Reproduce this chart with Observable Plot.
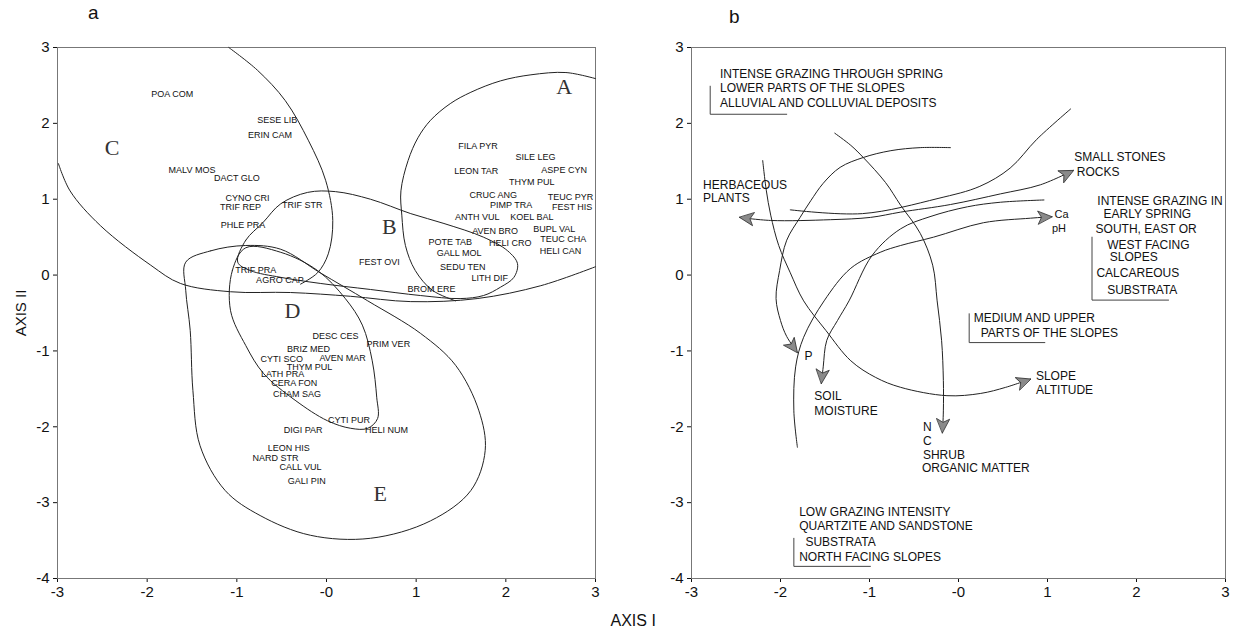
<!DOCTYPE html>
<html><head><meta charset="utf-8">
<script src="https://cdn.jsdelivr.net/npm/d3@7"></script>
<script src="https://cdn.jsdelivr.net/npm/@observablehq/plot@0.6"></script>
<style>
body{margin:0;background:#fff;}
#wrap{position:relative;width:1236px;height:640px;overflow:hidden;font-family:"Liberation Sans",Arial,sans-serif;background:#fff;}
#wrap > svg{position:absolute;top:0;}
.lbl{position:absolute;color:#111;font-family:"Liberation Sans",Arial,sans-serif;white-space:nowrap;}
</style></head><body><div id="wrap"></div>
<script>
// ---------- axes ----------
const xTicks = [-3, -2, -1, 0, 1, 2, 3];
const xTickLabels = ["-3", "-2", "-1", "-0", "1", "2", "3"];
const yTicks = [3, 2, 1, 0, -1, -2, -3, -4];
const yTickLabels = ["3", "2", "1", "0", "-1", "-2", "-3", "-4"];

// ---------- panel a: species scores ----------
const species = [
  ["POA COM",-1.72,2.38],["SESE LIB",-0.55,2.04],["ERIN CAM",-0.63,1.85],["MALV MOS",-1.50,1.39],
  ["DACT GLO",-1.00,1.28],["CYNO CRI",-0.88,1.01],["TRIF REP",-0.96,0.90],["TRIF STR",-0.27,0.92],
  ["PHLE PRA",-0.93,0.66],["TRIF PRA",-0.79,0.06],["AGRO CAP",-0.52,-0.06],["FEST OVI",0.59,0.17],
  ["FILA PYR",1.69,1.70],["SILE LEG",2.33,1.55],["LEON TAR",1.67,1.37],["ASPE CYN",2.65,1.38],
  ["THYM PUL",2.29,1.22],["CRUC ANG",1.86,1.05],["TEUC PYR",2.72,1.03],["PIMP TRA",2.06,0.92],
  ["FEST HIS",2.74,0.90],["ANTH VUL",1.68,0.76],["KOEL BAL",2.29,0.76],["AVEN BRO",1.88,0.58],
  ["BUPL VAL",2.54,0.61],["TEUC CHA",2.64,0.47],["POTE TAB",1.38,0.43],["HELI CRO",2.05,0.42],
  ["HELI CAN",2.61,0.31],["GALL MOL",1.48,0.29],["SEDU TEN",1.52,0.11],["LITH DIF",1.82,-0.04],
  ["BROM ERE",1.17,-0.18],["DESC CES",0.10,-0.81],["PRIM VER",0.69,-0.91],["BRIZ MED",-0.20,-0.97],
  ["CYTI SCO",-0.50,-1.11],["AVEN MAR",0.18,-1.09],["THYM PUL",-0.19,-1.21],["LATH PRA",-0.49,-1.31],
  ["CERA FON",-0.36,-1.43],["CHAM SAG",-0.33,-1.57],["CYTI PUR",0.25,-1.91],["HELI NUM",0.67,-2.05],
  ["DIGI PAR",-0.26,-2.05],["LEON HIS",-0.42,-2.28],["NARD STR",-0.57,-2.41],["CALL VUL",-0.29,-2.53],
  ["GALI PIN",-0.22,-2.72]
];
const groupLetters = [["A",2.65,2.48],["B",0.70,0.64],["C",-2.39,1.67],["D",-0.38,-0.47],["E",0.60,-2.88]];

// group boundaries (open curves)
const boundaryCBottom = [[-2.99,1.47],[-2.86,1.11],[-2.52,0.65],[-1.96,0.13],[-1.63,-0.11],[-1.07,-0.22],
  [-0.40,-0.23],[0.27,-0.28],[0.94,-0.35],[1.68,-0.31],[2.39,-0.14],[3.0,0.11]];
const boundaryCTop = [[-1.09,3.0],[-0.77,2.70],[-0.46,2.30],[-0.20,1.77],[-0.01,1.25],[0.07,0.72],
  [0.02,0.28],[-0.10,0.03],[-0.29,-0.12]];
const boundaryA = [[3.0,2.59],[2.67,2.67],[2.28,2.64],[1.94,2.56],[1.61,2.41],[1.38,2.26],[1.16,2.04],
  [1.02,1.81],[0.91,1.51],[0.83,1.11],[0.84,0.79],[0.88,0.39],[0.99,0.06],[1.18,-0.20],[1.44,-0.34]];
// closed boundaries
const boundaryB = [[-0.99,0.17],[-0.90,0.46],[-0.71,0.69],[-0.51,0.94],[-0.21,1.09],[0.10,1.10],[0.49,1.00],
  [0.94,0.81],[1.31,0.68],[1.75,0.50],[2.02,0.32],[2.13,0.15],[2.09,-0.03],[1.94,-0.16],[1.75,-0.27],
  [1.49,-0.31],[1.05,-0.27],[0.49,-0.19],[-0.07,-0.11],[-0.51,-0.03],[-0.85,0.06]];
const boundaryD = [[-0.90,0.36],[-1.05,0.06],[-1.07,-0.47],[-0.90,-0.93],[-0.70,-1.30],[-0.35,-1.65],
  [0.01,-1.92],[0.27,-2.02],[0.46,-2.02],[0.57,-1.89],[0.56,-1.61],[0.51,-1.13],[0.40,-0.66],[0.21,-0.31],
  [-0.10,0.06],[-0.51,0.30]];
const boundaryE = [[-1.57,0.17],[-1.29,0.32],[-0.90,0.39],[-0.51,0.34],[-0.07,0.03],[0.46,-0.34],[1.05,-0.77],
  [1.44,-1.19],[1.70,-1.79],[1.77,-2.31],[1.61,-2.84],[1.16,-3.24],[0.49,-3.47],[-0.18,-3.43],[-0.74,-3.17],
  [-1.13,-2.84],[-1.41,-2.25],[-1.49,-1.52],[-1.52,-0.73],[-1.57,-0.20]];

// ---------- panel b: environmental gradients ----------
const gradHerbStones = [[-2.46,0.76],[-2.11,0.72],[-1.44,0.73],[-0.99,0.76],[-0.65,0.83],[-0.09,0.93],
  [0.47,1.07],[0.92,1.19],[1.29,1.38]];
const gradRising = [[-1.89,0.86],[-1.08,0.81],[-0.23,1.01],[0.24,1.17],[0.58,1.41],[0.88,1.79],[1.26,2.19]];
const gradSoil = [[0.96,0.99],[0.47,0.96],[0.10,0.90],[-0.32,0.77],[-0.65,0.61],[-0.97,0.26],[-1.23,-0.34],
  [-1.36,-0.60],[-1.48,-0.86],[-1.52,-1.21],[-1.54,-1.43]];
const gradCaPh = [[-1.81,-2.27],[-1.85,-1.79],[-1.83,-1.21],[-1.74,-0.82],[-1.51,-0.34],[-1.21,0.09],
  [-0.88,0.30],[-0.65,0.39],[-0.28,0.50],[0.28,0.69],[0.81,0.75],[1.05,0.77]];
const gradP = [[-0.09,1.68],[-0.43,1.68],[-0.76,1.64],[-1.07,1.55],[-1.33,1.42],[-1.52,1.21],[-1.66,0.98],
  [-1.78,0.76],[-1.93,0.46],[-2.01,0.06],[-2.05,-0.31],[-2.00,-0.60],[-1.93,-0.81],[-1.81,-1.02]];
const gradSlope = [[-2.20,1.51],[-2.16,1.12],[-2.11,0.79],[-2.02,0.39],[-1.89,0.03],[-1.74,-0.34],
  [-1.49,-0.73],[-1.21,-1.13],[-0.93,-1.35],[-0.65,-1.48],[-0.13,-1.59],[0.25,-1.56],[0.53,-1.48],[0.81,-1.37]];
const gradShrub = [[-1.39,1.87],[-1.21,1.71],[-1.07,1.55],[-0.82,1.22],[-0.65,0.92],[-0.43,0.55],
  [-0.29,0.13],[-0.24,-0.34],[-0.19,-0.86],[-0.17,-1.39],[-0.17,-1.79],[-0.18,-2.08]];

const gradientLabels = [
  ["HERBACEOUS",-2.87,1.19],["PLANTS",-2.87,1.01],["SMALL STONES",1.30,1.56],["ROCKS",1.33,1.36],
  ["P",-1.73,-1.07],["SOIL",-1.62,-1.59],["MOISTURE",-1.62,-1.79],["SLOPE",0.87,-1.33],["ALTITUDE",0.87,-1.52],
  ["N",-0.40,-2.00],["C",-0.40,-2.19],["SHRUB",-0.40,-2.38],["ORGANIC MATTER",-0.41,-2.54]
];
const smallLabels = [["Ca",1.08,0.80],["pH",1.05,0.61]];
const noteLines = [
  ["INTENSE GRAZING THROUGH SPRING",-2.68,2.65],["LOWER PARTS OF THE SLOPES",-2.68,2.46],
  ["ALLUVIAL AND COLLUVIAL DEPOSITS",-2.68,2.26],
  ["INTENSE GRAZING IN",1.56,0.98],["EARLY SPRING",1.63,0.80],["SOUTH, EAST OR",1.54,0.60],
  ["WEST FACING",1.67,0.40],["SLOPES",1.70,0.23],["CALCAREOUS",1.55,0.03],["SUBSTRATA",1.67,-0.20],
  ["MEDIUM AND UPPER",0.17,-0.57],["PARTS OF THE SLOPES",0.25,-0.76],
  ["LOW GRAZING INTENSITY",-1.79,-3.13],["QUARTZITE AND SANDSTONE",-1.79,-3.31],
  ["SUBSTRATA",-1.72,-3.52],["NORTH FACING SLOPES",-1.79,-3.72]
];
const noteBrackets = [
  [[-2.79,2.49],[-2.79,2.12],[-1.93,2.12]],
  [[1.50,0.50],[1.50,-0.33],[2.36,-0.33]],
  [[0.12,-0.51],[0.12,-0.89],[0.97,-0.89]],
  [[-1.85,-3.47],[-1.85,-3.84],[-0.99,-3.84]]
];

// ---------- helpers ----------
const toRows = (list) => list.flatMap((pts, id) => pts.map(([x, y]) => ({id, x, y})));
const SVGNS = "http://www.w3.org/2000/svg";
function arrowHead() {
  const m = document.createElementNS(SVGNS, "marker");
  m.setAttribute("viewBox", "-15 -7.5 16 15");
  m.setAttribute("markerWidth", "16");
  m.setAttribute("markerHeight", "15");
  m.setAttribute("markerUnits", "userSpaceOnUse");
  m.setAttribute("refX", "0");
  m.setAttribute("refY", "0");
  m.setAttribute("orient", "auto-start-reverse");
  const p = document.createElementNS(SVGNS, "path");
  p.setAttribute("d", "M0,0L-14,-6.5L-10.5,0L-14,6.5Z");
  p.setAttribute("fill", "#8a8a8a");
  p.setAttribute("stroke", "#333");
  p.setAttribute("stroke-width", "0.8");
  p.setAttribute("stroke-linejoin", "round");
  m.appendChild(p);
  return m;
}

const W = 618, H = 640;
const style = {fontFamily: "'Liberation Sans', Arial, sans-serif", fontSize: "15px", color: "#111", background: "transparent", overflow: "visible"};
const xScale = {domain: [-3, 3], ticks: xTicks, tickFormat: d => xTickLabels[xTicks.indexOf(d)], tickSize: 4, tickPadding: 4, label: null};
const yTicksFmt = d => yTickLabels[yTicks.indexOf(d)];

// ---------- panel a ----------
const plotA = Plot.plot({
  width: W, height: H, marginLeft: 57, marginRight: 23, marginTop: 47, marginBottom: 62,
  style,
  x: xScale,
  y: {domain: [-4, 3], ticks: yTicks, tickFormat: yTicksFmt, tickSize: 4, tickPadding: 4,
      label: "AXIS II", labelAnchor: "center", labelOffset: 42, labelArrow: "none"},
  marks: [
    Plot.frame({stroke: "#777", strokeWidth: 1}),
    Plot.line(toRows([boundaryCBottom, boundaryCTop, boundaryA]), {x: "x", y: "y", z: "id", curve: "catmull-rom", stroke: "#222", strokeWidth: 1}),
    Plot.line(toRows([boundaryB, boundaryD, boundaryE]), {x: "x", y: "y", z: "id", curve: "catmull-rom-closed", stroke: "#222", strokeWidth: 1}),
    Plot.text(species, {x: d => d[1], y: d => d[2], text: d => d[0], fontSize: 9, fill: "#111"}),
    Plot.text(groupLetters, {x: d => d[1], y: d => d[2], text: d => d[0], fontSize: 22, fontFamily: "'Liberation Serif', 'DejaVu Serif', serif", fill: "#333"})
  ]
});

// ---------- panel b ----------
function makeB(head) {
  const line = (pts, opts) => Plot.line(pts, {x: d => d[0], y: d => d[1], curve: "catmull-rom", stroke: "#222", strokeWidth: 1, ...opts});
  return Plot.plot({
    width: W, height: H, marginLeft: 73, marginRight: 11, marginTop: 47, marginBottom: 62,
    style,
    x: xScale,
    y: {domain: [-4, 3], ticks: yTicks, tickFormat: yTicksFmt, tickSize: 4, tickPadding: 4, label: null},
    marks: [
      Plot.frame({stroke: "#777", strokeWidth: 1}),
      Plot.line(toRows(noteBrackets), {x: "x", y: "y", z: "id", stroke: "#444", strokeWidth: 1}),
      line(gradRising, {}),
      line(gradHerbStones, {markerStart: head, markerEnd: head}),
      line(gradSoil, {markerEnd: head}),
      line(gradCaPh, {markerEnd: head}),
      line(gradP, {markerEnd: head}),
      line(gradSlope, {markerEnd: head}),
      line(gradShrub, {markerEnd: head}),
      Plot.text(gradientLabels, {x: d => d[1], y: d => d[2], text: d => d[0], textAnchor: "start", fontSize: 12, fill: "#111"}),
      Plot.text(smallLabels, {x: d => d[1], y: d => d[2], text: d => d[0], textAnchor: "start", fontSize: 11, fill: "#111"}),
      Plot.text(noteLines, {x: d => d[1], y: d => d[2], text: d => d[0], textAnchor: "start", fontSize: 12, fill: "#111"})
    ]
  });
}
let plotB;
try { plotB = makeB(arrowHead); } catch (e) { plotB = makeB("arrow"); }

const wrap = document.getElementById("wrap");
plotA.style.left = "0px";
plotB.style.left = W + "px";
wrap.appendChild(plotA);
wrap.appendChild(plotB);

function addLabel(text, left, top, size) {
  const d = document.createElement("div");
  d.className = "lbl";
  d.textContent = text;
  d.style.left = left + "px";
  d.style.top = top + "px";
  d.style.fontSize = size + "px";
  wrap.appendChild(d);
  return d;
}
addLabel("a", 88, 2, 19);
addLabel("b", 729, 6, 19);
const ax = addLabel("AXIS I", 0, 612, 16);
ax.style.left = (633 - ax.offsetWidth / 2) + "px";
</script></body></html>
